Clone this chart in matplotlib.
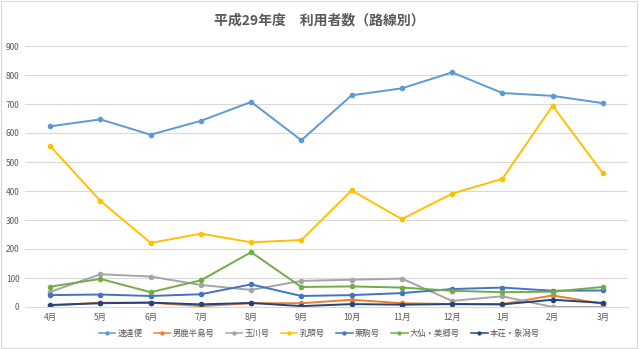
import matplotlib.pyplot as plt
from matplotlib.patches import Rectangle

plt.rcParams['font.family'] = ['Noto Sans CJK JP', 'DejaVu Sans']

# Data
months = ["4月", "5月", "6月", "7月", "8月", "9月", "10月", "11月", "12月", "1月", "2月", "3月"]
sokutatsu = [623, 647, 594, 642, 707, 575, 730, 754, 809, 738, 728, 703]
oga = [5, 15, 15, 3, 13, 13, 25, 13, 10, 10, 40, 11]
tamagawa = [52, 113, 105, 76, 59, 90, 94, 98, 21, 37, 0, 0]
nyuto = [555, 366, 221, 253, 223, 231, 402, 303, 391, 442, 694, 461]
kurikoma = [41, 43, 38, 44, 78, 38, 41, 48, 62, 67, 56, 57]
daisen = [70, 97, 51, 92, 189, 69, 71, 67, 56, 51, 53, 69]
honjo = [7, 13, 15, 9, 14, 3, 10, 8, 10, 9, 25, 14]

series = [
    ("速達便", sokutatsu, "#5B9BD5"),
    ("男鹿半島号", oga, "#ED7D31"),
    ("玉川号", tamagawa, "#A5A5A5"),
    ("乳頭号", nyuto, "#FFC000"),
    ("栗駒号", kurikoma, "#4472C4"),
    ("大仙・美郷号", daisen, "#70AD47"),
    ("本荘・象潟号", honjo, "#264478"),
]

fig = plt.figure(figsize=(6.39, 3.49), dpi=100)
ax = fig.add_axes([25 / 639, 1 - 307 / 349, 603 / 639, (307 - 46) / 349])

x = range(len(months))
for name, vals, color in series:
    ax.plot(x, vals, color=color, lw=1.4, marker="o", ms=3, label=name)

ax.set_xlim(-0.5, len(months) - 0.5)
ax.set_ylim(0, 900)
ax.set_yticks(range(0, 901, 100))
ax.set_xticks(list(x))
ax.set_xticklabels(months)
ax.tick_params(axis="both", length=0, labelsize=6, colors="#595959", pad=4)
ax.grid(axis="y", color="#D9D9D9", lw=0.8)
ax.set_axisbelow(True)
for s in ["top", "right", "left"]:
    ax.spines[s].set_visible(False)
ax.spines["bottom"].set_color("#D9D9D9")

fig.text(0.5, 1 - 21 / 349, "平成29年度　利用者数（路線別）", ha="center", va="center",
         fontsize=10, color="#595959", fontweight="bold")

leg = fig.legend(loc="center", bbox_to_anchor=(0.5, 1 - 333 / 349), ncol=7, frameon=False,
                 fontsize=6, handlelength=2.0, columnspacing=1.3, handletextpad=0.3,
                 markerscale=0.7)
for t in leg.get_texts():
    t.set_color("#595959")
for line in leg.get_lines():
    line.set_linewidth(1.1)

fig.patches.append(Rectangle((0.002, 0.003), 0.995, 0.994, transform=fig.transFigure,
                             fill=False, edgecolor="#D9D9D9", lw=0.8))

fig.savefig("out.png", dpi=100)
